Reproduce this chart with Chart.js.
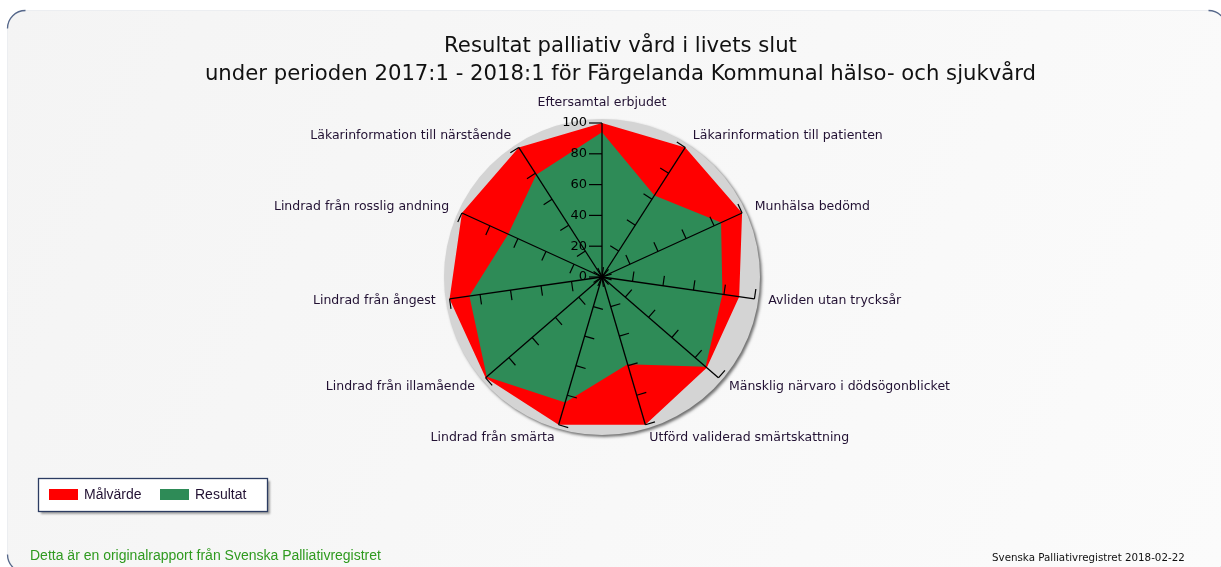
<!DOCTYPE html>
<html>
<head>
<meta charset="utf-8">
<title>Resultat palliativ vård i livets slut</title>
<script src="https://cdn.jsdelivr.net/npm/chart.js@4.4.1/dist/chart.umd.min.js"></script>
<style>
  html, body { margin: 0; padding: 0; background: #ffffff; }
  canvas { display: block; }
</style>
</head>
<body>
<canvas id="radar" width="1221" height="567"></canvas>
<script>
// Kvalitetsindikatorer, medsols från toppen
const categories = [
    'Eftersamtal erbjudet',
    'Läkarinformation till patienten',
    'Munhälsa bedömd',
    'Avliden utan trycksår',
    'Mänsklig närvaro i dödsögonblicket',
    'Utförd validerad smärtskattning',
    'Lindrad från smärta',
    'Lindrad från illamående',
    'Lindrad från ångest',
    'Lindrad från rosslig andning',
    'Läkarinformation till närstående'
];
const malvarde = [100, 100, 100, 90, 90, 100, 100, 100, 100, 100, 100];
const resultat = [94, 63, 85, 79, 89, 59, 85, 99, 87, 67, 79];
const radialTicks = [0, 20, 40, 60, 80, 100];

const titleLines = [
    'Resultat palliativ vård i livets slut',
    'under perioden 2017:1 - 2018:1 för Färgelanda Kommunal hälso- och sjukvård'
];

const labelColor = '#221133';

const decorations = {
    id: 'decorations',
    beforeDraw(chart) {
        const ctx = chart.ctx;
        const r = chart.scales.r;
        ctx.save();
        // panel
        const x0 = 7.5, y0 = 10.5, w = 1219, h = 562, rad = 18;
        const g = ctx.createLinearGradient(0, 0, chart.width, chart.height);
        g.addColorStop(0, '#f4f4f4');
        g.addColorStop(1, '#fbfbfb');
        ctx.beginPath();
        ctx.roundRect(x0, y0, w, h, rad);
        ctx.fillStyle = g;
        ctx.fill();
        ctx.strokeStyle = '#eceef1';
        ctx.lineWidth = 1;
        ctx.stroke();
        ctx.strokeStyle = '#55678a';
        ctx.lineWidth = 1.3;
        [[x0 + rad, y0 + rad, Math.PI], [x0 + w - rad, y0 + rad, 1.5 * Math.PI],
         [x0 + w - rad, y0 + h - rad, 0], [x0 + rad, y0 + h - rad, 0.5 * Math.PI]].forEach(c => {
            ctx.beginPath();
            ctx.arc(c[0], c[1], rad, c[2], c[2] + 0.5 * Math.PI);
            ctx.stroke();
        });

        // grå skiva bakom diagrammet
        ctx.beginPath();
        ctx.arc(r.xCenter, r.yCenter, r.drawingArea + 4, 0, 2 * Math.PI);
        ctx.fillStyle = '#d4d4d4';
        ctx.shadowColor = 'rgba(0,0,0,0.55)';
        ctx.shadowBlur = 3;
        ctx.shadowOffsetX = 2;
        ctx.shadowOffsetY = 2;
        ctx.fill();
        ctx.restore();
    },
    afterDraw(chart) {
        const ctx = chart.ctx;
        const r = chart.scales.r;
        const n = chart.data.labels.length;
        ctx.save();

        // små streck på varje eker
        ctx.strokeStyle = '#000';
        ctx.lineWidth = 1.2;
        for (let i = 0; i < n; i++) {
            const a = r.getIndexAngle(i) - Math.PI / 2;
            const px = Math.sin(a), py = -Math.cos(a);
            const len = i === 0 ? 13 : 10;
            r.ticks.forEach(t => {
                const p = r.getPointPosition(i, r.getDistanceFromCenterForValue(t.value));
                ctx.beginPath();
                ctx.moveTo(p.x, p.y);
                ctx.lineTo(p.x + px * len, p.y + py * len);
                ctx.stroke();
            });
        }

        // skalans etiketter
        ctx.fillStyle = '#000';
        ctx.font = '13px "DejaVu Sans"';
        ctx.textAlign = 'right';
        ctx.textBaseline = 'middle';
        r.ticks.forEach(t => {
            const p = r.getPointPosition(0, r.getDistanceFromCenterForValue(t.value));
            ctx.fillText(t.label, p.x - 15, p.y);
        });

        // kategorietiketter
        ctx.fillStyle = labelColor;
        ctx.font = '12.5px "DejaVu Sans"';
        chart.data.labels.forEach((lab, i) => {
            const p = r.getPointPosition(i, r.drawingArea + 14);
            const dx = p.x - r.xCenter;
            const align = Math.abs(dx) < 4 ? 'center' : (dx > 0 ? 'left' : 'right');
            ctx.textAlign = align;
            ctx.fillText(lab, p.x, align === 'center' ? p.y - 6 : p.y);
        });

        // förklaring
        const lx = 38.5, ly = 478.5, lw = 229, lh = 33;
        ctx.save();
        ctx.shadowColor = 'rgba(0,0,0,0.35)';
        ctx.shadowBlur = 2;
        ctx.shadowOffsetX = 2;
        ctx.shadowOffsetY = 2;
        ctx.fillStyle = '#ffffff';
        ctx.fillRect(lx, ly, lw, lh);
        ctx.restore();
        ctx.strokeStyle = '#2c3c62';
        ctx.lineWidth = 1.3;
        ctx.strokeRect(lx, ly, lw, lh);
        ctx.font = '14px "Liberation Sans"';
        ctx.textAlign = 'left';
        let ix = 49;
        chart.data.datasets.forEach(ds => {
            ctx.fillStyle = ds.backgroundColor;
            ctx.fillRect(ix, 489, 29, 11);
            ctx.fillStyle = labelColor;
            ctx.fillText(ds.label, ix + 35, 495);
            ix += 111;
        });

        // sidfot
        ctx.fillStyle = '#2f9a1f';
        ctx.font = '14px "Liberation Sans"';
        ctx.fillText('Detta är en originalrapport från Svenska Palliativregistret', 30, 556);
        ctx.fillStyle = '#111';
        ctx.font = '10.3px "DejaVu Sans"';
        ctx.fillText('Svenska Palliativregistret 2018-02-22', 992, 558);
        ctx.restore();
    }
};

new Chart(document.getElementById('radar'), {
    type: 'radar',
    data: {
        labels: categories,
        datasets: [
            {
                label: 'Målvärde',
                data: malvarde,
                backgroundColor: '#ff0000',
                fill: 'origin',
                order: 2,
                clip: false
            },
            {
                label: 'Resultat',
                data: resultat,
                backgroundColor: '#2e8b57',
                fill: 'origin',
                order: 1,
                clip: false
            }
        ]
    },
    options: {
        responsive: false,
        animation: false,
        layout: { padding: { left: 20 } },
        elements: {
            line: { borderWidth: 0, tension: 0 },
            point: { radius: 0, hoverRadius: 0 }
        },
        scales: {
            r: {
                min: radialTicks[0],
                max: radialTicks[radialTicks.length - 1],
                ticks: { stepSize: radialTicks[1] - radialTicks[0], display: false },
                grid: { display: false, z: 1 },
                angleLines: { color: '#000', lineWidth: 1.3 },
                pointLabels: { display: false },
                afterFit(scale) {
                    scale.xCenter = 602;
                    scale.yCenter = 277;
                    scale.drawingArea = 154;
                }
            }
        },
        plugins: {
            legend: { display: false },
            tooltip: { enabled: false },
            title: {
                display: true,
                text: titleLines,
                color: '#111',
                font: { family: 'DejaVu Sans', size: 21.2, weight: 'normal', lineHeight: 1.29 },
                padding: { top: 33, bottom: 4 }
            }
        }
    },
    plugins: [decorations]
});
</script>
</body>
</html>
